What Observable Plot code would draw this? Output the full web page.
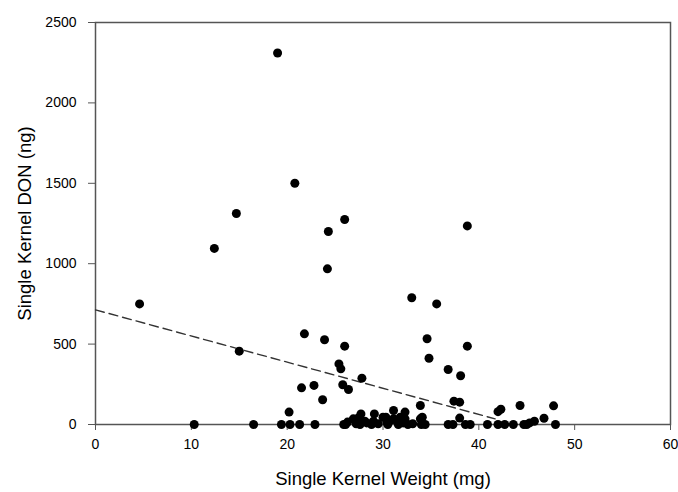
<!DOCTYPE html>
<html>
<head>
<meta charset="utf-8">
<script src="https://cdn.jsdelivr.net/npm/d3@7"></script>
<script src="https://cdn.jsdelivr.net/npm/@observablehq/plot@0.6"></script>
<style>
  html, body { margin: 0; padding: 0; background: #fff; }
  #chart svg g[aria-label="x-axis label"] text,
  #chart svg g[aria-label="y-axis label"] text { font-size: 18.5px; }
</style>
</head>
<body>
<div id="chart"></div>
<script>
// Single kernel weight (mg)
const weight = [
  4.6, 12.4, 14.7, 15.0, 19.0, 20.8, 24.3, 26.0, 24.2, 21.8,
  23.9, 26.0, 25.4, 25.6, 27.8, 21.5, 22.8, 25.8, 26.4, 23.7,
  20.2, 33.0, 35.6, 34.6, 34.8, 38.8, 36.8, 38.1, 38.8, 37.4,
  38.0, 33.9, 31.1, 32.3, 42.0, 42.3, 44.3, 47.8, 46.8, 45.8,
  45.3,
  10.3, 16.5, 19.4, 20.3, 21.3, 22.9, 25.9, 26.1,
  26.3, 26.9, 27.4, 27.7, 28.1, 29.0, 29.1, 30.0, 30.4,
  30.3, 31.8, 34.1, 31.1, 32.3, 33.9,
  27.2, 27.6, 28.3, 28.8, 29.5, 30.5, 31.0, 31.6, 32.1, 32.6, 33.1, 34.4, 34.0,
  36.8, 37.3, 38.0, 38.6, 39.1,
  40.9, 42.0, 42.7, 43.6, 44.7, 45.0, 48.0
];
// Single kernel DON (ng)
const don = [
  750, 1095, 1312, 456, 2310, 1500, 1200, 1275, 968, 564,
  527, 487, 377, 346, 288, 228, 243, 247, 218, 154,
  77, 788, 750, 533, 412, 487, 342, 303, 1235, 145,
  139, 118, 87, 77, 80, 95, 118, 116, 39, 20,
  10,
  0, 0, 0, 0, 0, 0, 0, 0,
  15, 35, 40, 66, 20, 20, 66, 45, 15,
  45, 45, 45, 35, 35, 35,
  5, 0, 10, 0, 5, 0, 30, 0, 10, 0, 5, 0, 0,
  0, 0, 40, 0, 0,
  0, 0, 0, 0, 0, 0, 0
];
// Regression trend line (dashed), end points
const trendX = [0, 41.7];
const trendY = [713, 35];

const xTicks = [0, 10, 20, 30, 40, 50, 60];
const yTicks = [0, 500, 1000, 1500, 2000, 2500];

const points = weight.map((w, i) => ({w, d: don[i]}));
const trend = trendX.map((w, i) => ({w, d: trendY[i]}));

const chart = Plot.plot({
  width: 678,
  height: 492,
  marginLeft: 95,
  marginRight: 8,
  marginTop: 22,
  marginBottom: 68,
  style: {fontFamily: "'Liberation Sans', Arial, sans-serif", fontSize: "14px", background: "#fff", color: "#000"},
  x: {domain: [0, 60]},
  y: {domain: [0, 2500]},
  marks: [
    Plot.frame({stroke: "#555", strokeWidth: 1.5}),
    Plot.axisX({ticks: xTicks, tickFormat: d3.format("d"), tickSize: 6, tickPadding: 9, stroke: "#555",
      label: "Single Kernel Weight (mg)", labelAnchor: "center", labelArrow: "none", labelOffset: 60}),
    Plot.axisY({ticks: yTicks, tickFormat: d3.format("d"), tickSize: 7, tickPadding: 12, stroke: "#555",
      label: "Single Kernel DON (ng)", labelAnchor: "center", labelArrow: "none", labelOffset: 78}),
    Plot.line(trend, {x: "w", y: "d", stroke: "#333", strokeWidth: 1.4, strokeDasharray: "9,5"}),
    Plot.dot(points, {x: "w", y: "d", r: 4.5, fill: "#000", stroke: "none"})
  ]
});
document.getElementById("chart").append(chart);
</script>
</body>
</html>
